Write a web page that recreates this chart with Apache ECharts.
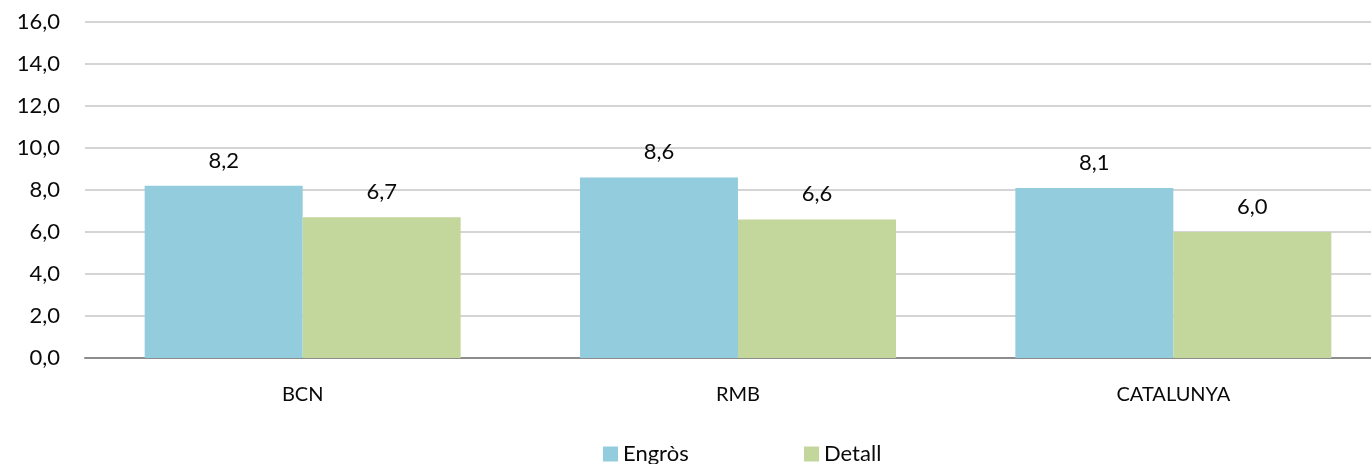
<!DOCTYPE html>
<html>
<head>
<meta charset="utf-8">
<script src="https://cdn.jsdelivr.net/npm/echarts@6/dist/echarts.min.js"></script>
<style>
  html, body { margin: 0; padding: 0; background: #fff; overflow: hidden; }
  #chart { width: 1391px; height: 464px; }
</style>
</head>
<body>
<div id="chart"></div>
<script>
// Regions and the two series shown for each
const categories = ['BCN', 'RMB', 'CATALUNYA'];
const seriesNames = ['Engròs', 'Detall'];
const engros = [8.2, 8.6, 8.1];
const detall = [6.7, 6.6, 6.0];
const yTicks = [0, 2, 4, 6, 8, 10, 12, 14, 16];

const FONT = 'Lato';
const TEXT = '#0a0a0a';
const fmt = v => Number(v).toFixed(1).replace('.', ',');

const chart = echarts.init(document.getElementById('chart'), null, { renderer: 'canvas' });

const legendText = { fontFamily: FONT, fontSize: 22, color: TEXT };

chart.setOption({
  animation: false,
  textStyle: { fontFamily: FONT },
  // plot area runs past the right edge of the window
  grid: { left: 85, top: 22, right: 0, bottom: 106, containLabel: false },
  legend: [
    { data: [seriesNames[0]], left: 598, top: 438, itemWidth: 15, itemHeight: 15, icon: 'rect', textStyle: legendText },
    { data: [seriesNames[1]], left: 799, top: 438, itemWidth: 15, itemHeight: 15, icon: 'rect', textStyle: legendText }
  ],
  xAxis: {
    type: 'category',
    data: categories,
    axisLine: { lineStyle: { color: '#8c8c8c', width: 2 } },
    axisTick: { show: false },
    axisLabel: { fontFamily: FONT, fontSize: 20, color: TEXT, margin: 27 }
  },
  yAxis: {
    type: 'value',
    min: yTicks[0],
    max: yTicks[yTicks.length - 1],
    interval: yTicks[1] - yTicks[0],
    axisLine: { show: false },
    axisTick: { show: false },
    splitLine: { lineStyle: { color: '#d4d4d4', width: 2 } },
    axisLabel: { fontFamily: FONT, fontSize: 22, color: TEXT, margin: 25, formatter: fmt }
  },
  series: [
    {
      name: seriesNames[0], type: 'bar', data: engros,
      barWidth: 158, barGap: '0%',
      itemStyle: { color: '#93cddd' },
      label: { show: true, position: 'top', distance: 14, formatter: p => fmt(p.value),
               fontFamily: FONT, fontSize: 22, color: TEXT }
    },
    {
      name: seriesNames[1], type: 'bar', data: detall,
      barWidth: 158, barGap: '0%',
      itemStyle: { color: '#c3d69b' },
      label: { show: true, position: 'top', distance: 14, formatter: p => fmt(p.value),
               fontFamily: FONT, fontSize: 22, color: TEXT }
    }
  ]
});
</script>
</body>
</html>
